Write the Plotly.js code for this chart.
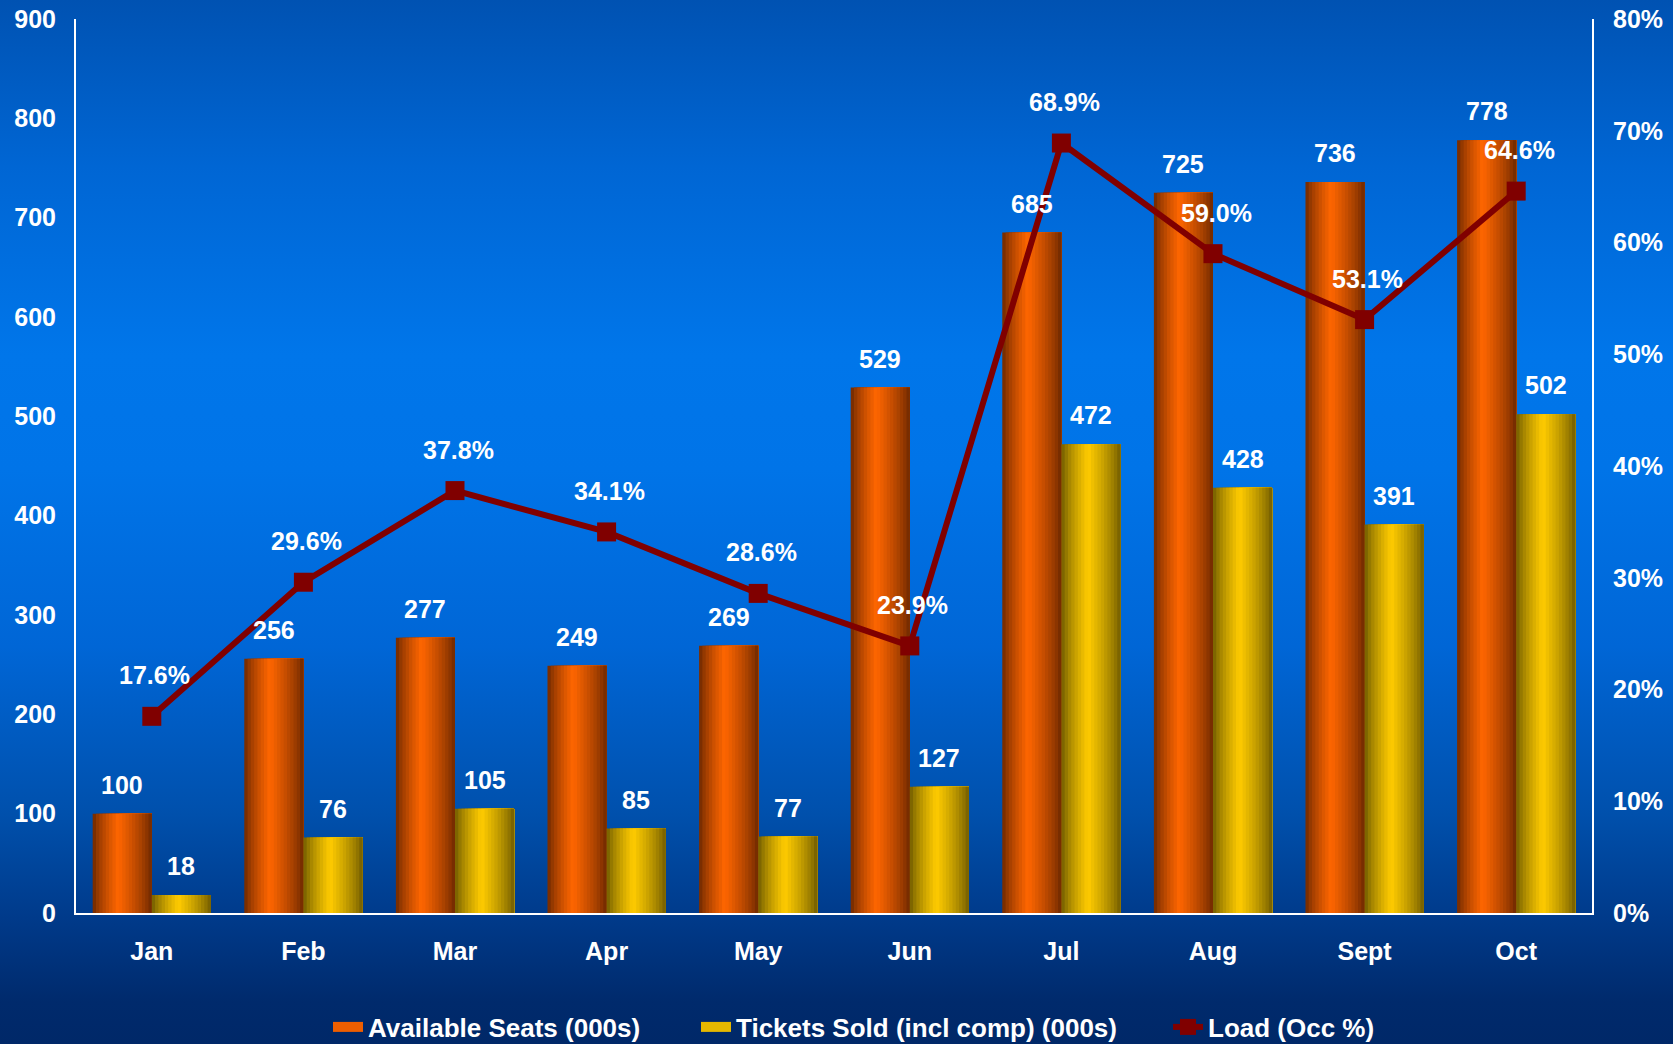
<!DOCTYPE html>
<html>
<head>
<meta charset="utf-8">
<script src="https://cdn.plot.ly/plotly-3.0.1.min.js"></script>
<style>
  html, body { margin: 0; padding: 0; }
  #chart {
    width: 1673px; height: 1044px;
    background: linear-gradient(to bottom,
      #0052b2 0%, #0066d4 16%, #0076ea 34%, #0074e8 45%, #0066d6 62%,
      #0050ac 78%, #003a8a 88%, #002a6c 96%, #002868 100%);
  }
</style>
</head>
<body>
<div id="chart"></div>
<script>
// ---- data ----
const months = ['Jan', 'Feb', 'Mar', 'Apr', 'May', 'Jun', 'Jul', 'Aug', 'Sept', 'Oct'];
const availableSeats = [100, 256, 277, 249, 269, 529, 685, 725, 736, 778];
const ticketsSold = [18, 76, 105, 85, 77, 127, 472, 428, 391, 502];
const loadPct = [17.6, 29.6, 37.8, 34.1, 28.6, 23.9, 68.9, 59.0, 53.1, 64.6];
const seriesNames = ['Available Seats (000s)', 'Tickets Sold (incl comp) (000s)', 'Load (Occ %)'];

// ---- styling helpers ----
const FONT = 'Liberation Sans, Arial, Helvetica, sans-serif';
const BARW = 0.39;     // width of each bar in category units
const K = 18;          // slices used to draw cylinder shading

function hex(c) { return [parseInt(c.slice(1,3),16), parseInt(c.slice(3,5),16), parseInt(c.slice(5,7),16)]; }
function shade(dark, bright, peak, t) {
  let s = t < peak ? t / peak : (1 - t) / (1 - peak);
  s = Math.pow(Math.max(0, Math.min(1, s)), 0.75);
  const d = hex(dark), b = hex(bright);
  const r = d.map((v, i) => Math.round(v + (b[i] - v) * s));
  return 'rgb(' + r.join(',') + ')';
}

const traces = [];

// legend-only entries (wide swatches like the original), one legend box each
traces.push({ type: 'scatter', mode: 'lines', x: [null], y: [null], name: seriesNames[0],
  legend: 'legend', line: { color: '#ee5e00', width: 15 }, hoverinfo: 'skip' });
traces.push({ type: 'scatter', mode: 'lines', x: [null], y: [null], name: seriesNames[1],
  legend: 'legend2', line: { color: '#e6b800', width: 15 }, hoverinfo: 'skip' });

function addCylinder(values, name, dark, bright, peak, startOffset) {
  for (let s = 0; s < K; s++) {
    const t = (s + 0.5) / K;
    traces.push({
      type: 'bar',
      x: months,
      y: values,
      name: name,
      showlegend: false,
      offset: startOffset + s * BARW / K,
      width: BARW - s * BARW / K,
      marker: { color: shade(dark, bright, peak, t), line: { width: 0 } },
      hoverinfo: 'skip'
    });
  }
}
addCylinder(availableSeats, seriesNames[0], '#682600', '#ff6600', 0.43, -BARW);
addCylinder(ticketsSold, seriesNames[1], '#6c5800', '#ffcc00', 0.45, 0);

traces.push({
  type: 'scatter',
  mode: 'lines+markers',
  x: months,
  y: loadPct,
  yaxis: 'y2',
  name: seriesNames[2],
  legend: 'legend3',
  line: { color: '#800000', width: 6 },
  marker: { symbol: 'square', size: 19, color: '#800000' },
  hoverinfo: 'skip'
});

// ---- value labels ----
const annotations = [];
const labelFont = { family: FONT, size: 25, color: '#ffffff', weight: 700 };
months.forEach((m, i) => {
  annotations.push({ x: i - BARW / 2, y: availableSeats[i], xref: 'x', yref: 'y',
    text: String(availableSeats[i]), showarrow: false, yanchor: 'middle', yshift: 29, font: labelFont });
  annotations.push({ x: i + BARW / 2, y: ticketsSold[i], xref: 'x', yref: 'y',
    text: String(ticketsSold[i]), showarrow: false, yanchor: 'middle', yshift: 29, font: labelFont });
  annotations.push({ x: i, y: loadPct[i], xref: 'x', yref: 'y2',
    text: loadPct[i].toFixed(1) + '%', showarrow: false, yanchor: 'middle', xshift: 3, yshift: 41, font: labelFont });
});

const tickFont = { family: FONT, size: 25, color: '#ffffff', weight: 700 };
function legendAt(xpx) {
  return {
    orientation: 'h',
    x: xpx / 1673, xref: 'container', xanchor: 'left',
    y: 1 - 1027 / 1044, yref: 'container', yanchor: 'middle',
    bgcolor: 'rgba(0,0,0,0)', borderwidth: 0,
    font: { family: FONT, size: 26, color: '#ffffff', weight: 700 }
  };
}
const layout = {
  width: 1673, height: 1044,
  paper_bgcolor: 'rgba(0,0,0,0)',
  plot_bgcolor: 'rgba(0,0,0,0)',
  margin: { l: 76, r: 81, t: 19, b: 131 },
  barmode: 'overlay',
  showlegend: true,
  font: { family: FONT, color: '#ffffff' },
  xaxis: {
    type: 'category',
    showline: true, linecolor: '#ffffff', linewidth: 2,
    showgrid: false, zeroline: false, ticks: '',
    tickfont: tickFont, ticklabelstandoff: 15,
    range: [-0.5, months.length - 0.5]
  },
  yaxis: {
    range: [0, 900], dtick: 100,
    showline: true, linecolor: '#ffffff', linewidth: 2,
    showgrid: false, zeroline: false, ticks: '',
    tickfont: tickFont, ticklabelstandoff: 13
  },
  yaxis2: {
    overlaying: 'y', side: 'right',
    range: [0, 80], dtick: 10, ticksuffix: '%',
    showline: true, linecolor: '#ffffff', linewidth: 2,
    showgrid: false, zeroline: false, ticks: '',
    tickfont: tickFont, ticklabelstandoff: 14
  },
  legend: legendAt(328),
  legend2: legendAt(696),
  legend3: legendAt(1168),
  annotations: annotations
};

Plotly.newPlot('chart', traces, layout, { staticPlot: true, displayModeBar: false });
</script>
</body>
</html>
